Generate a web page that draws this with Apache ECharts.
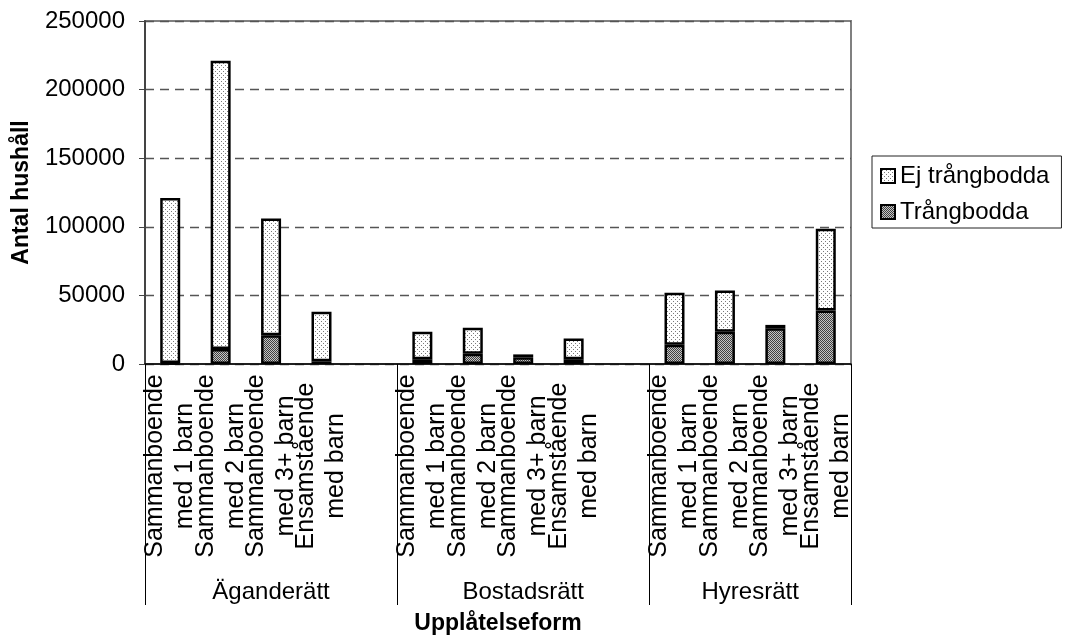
<!DOCTYPE html>
<html>
<head>
<meta charset="utf-8">
<script src="https://cdn.jsdelivr.net/npm/echarts@6/dist/echarts.min.js"></script>
<style>
  html, body { margin: 0; padding: 0; background: #fff; }
  #main { width: 1067px; height: 641px; }
</style>
</head>
<body>
<div id="main"></div>
<script>
// hushållstyper inom varje upplåtelseform
const hushallTyper = ['Sammanboende\nmed 1 barn', 'Sammanboende\nmed 2 barn', 'Sammanboende\nmed 3+ barn', 'Ensamstående\nmed barn'];
const upplatelseformer = ['Äganderätt', 'Bostadsrätt', 'Hyresrätt'];

// Trångbodda per upplåtelseform
const trangAgande = [800, 11000, 21000, 2000];
const trangBostad = [3500, 7500, 5000, 3500];
const trangHyres = [14000, 23500, 26000, 39000];

// Ej trångbodda per upplåtelseform
const ejAgande = [120200, 210000, 85000, 36000];
const ejBostad = [20000, 19000, 2000, 15000];
const ejHyres = [38000, 30000, 2500, 59500];

const yTicks = [0, 50000, 100000, 150000, 200000, 250000];

const FONT = "'Liberation Sans', Arial, sans-serif";

// bygg kategorier med en tom plats mellan grupperna
const categories = [];
const trangData = [];
const ejData = [];
const groupBounds = [0];
const groupCenters = [];
const trangGroups = [trangAgande, trangBostad, trangHyres];
const ejGroups = [ejAgande, ejBostad, ejHyres];
upplatelseformer.forEach((form, g) => {
  const start = categories.length;
  hushallTyper.forEach((typ, i) => {
    categories.push(typ);
    trangData.push(trangGroups[g][i]);
    ejData.push(ejGroups[g][i]);
  });
  if (g < upplatelseformer.length - 1) {
    categories.push('');
    trangData.push(null);
    ejData.push(null);
  }
  groupBounds.push(categories.length);
  groupCenters.push((start + categories.length) / 2);
});

function makePattern(size, bg, fg, dots) {
  const c = document.createElement('canvas');
  c.width = size;
  c.height = size;
  const ctx = c.getContext('2d');
  ctx.fillStyle = bg;
  ctx.fillRect(0, 0, size, size);
  ctx.fillStyle = fg;
  dots.forEach(d => ctx.fillRect(d[0], d[1], 1, 1));
  return { image: c, repeat: 'repeat' };
}

const lightPattern = makePattern(4, '#ffffff', '#7a7a7a', [[1, 1], [3, 3]]);
const darkPattern = makePattern(2, '#c4c4c4', '#404040', [[0, 0], [1, 1]]);

const chart = echarts.init(document.getElementById('main'), null, { renderer: 'canvas' });

chart.setOption({
  animation: false,
  textStyle: { fontFamily: FONT, color: '#000' },
  grid: {
    left: 145, right: 216, top: 21, bottom: 277,
    show: true, borderColor: '#808080', borderWidth: 2
  },
  legend: {
    orient: 'vertical',
    left: 872, top: 156,
    data: ['Ej trångbodda', 'Trångbodda'],
    borderColor: '#222',
    borderWidth: 1,
    padding: [8, 12, 4, 8],
    itemWidth: 14, itemHeight: 14, itemGap: 12,
    icon: 'rect',
    itemStyle: { borderColor: '#000', borderWidth: 2 },
    textStyle: { fontFamily: FONT, fontSize: 24, color: '#000' }
  },
  xAxis: [
    {
      type: 'category',
      data: categories,
      axisLine: { lineStyle: { color: '#000', width: 1.5 } },
      axisTick: { interval: 0, length: 194, lineStyle: { color: '#000', width: 1 } },
      axisLabel: {
        interval: 0, rotate: 90, align: 'center', verticalAlign: 'middle',
        margin: 102, lineHeight: 30, fontSize: 25, color: '#000', fontFamily: FONT,
        formatter: v => v ? v.split('\n').map(s => '{c|' + s + '}').join('\n') : '',
        rich: { c: { align: 'center', fontSize: 25, lineHeight: 30, fontFamily: FONT, color: '#000' } }
      }
    },
    {
      type: 'value',
      position: 'bottom',
      min: 0, max: categories.length,
      axisLine: { show: false },
      splitLine: { show: false },
      axisTick: { show: true, customValues: groupBounds, length: 241, lineStyle: { color: '#000', width: 1 } },
      axisLabel: {
        customValues: groupCenters,
        formatter: v => upplatelseformer[groupCenters.indexOf(v)] || '',
        margin: 216, fontSize: 24, color: '#000', fontFamily: FONT
      },
      name: 'Upplåtelseform',
      nameLocation: 'middle',
      nameGap: 248,
      nameTextStyle: { fontFamily: FONT, fontSize: 23, fontWeight: 'bold', color: '#000' }
    }
  ],
  yAxis: {
    type: 'value',
    min: yTicks[0], max: yTicks[yTicks.length - 1], interval: yTicks[1] - yTicks[0],
    name: 'Antal hushåll',
    nameLocation: 'middle',
    nameGap: 112,
    nameTextStyle: { fontFamily: FONT, fontSize: 23, fontWeight: 'bold', color: '#000' },
    axisLine: { show: true, lineStyle: { color: '#444', width: 2 } },
    axisTick: { show: true, length: 6, lineStyle: { color: '#444', width: 1 } },
    axisLabel: { margin: 20, fontSize: 24, color: '#000', fontFamily: FONT, formatter: v => String(v) },
    splitLine: { lineStyle: { color: '#555', width: 1.3, type: [9, 6] } }
  },
  series: [
    {
      name: 'Trångbodda',
      type: 'bar',
      stack: 'hushall',
      barWidth: 20,
      data: trangData,
      itemStyle: { color: darkPattern, borderColor: '#000', borderWidth: 2.5 }
    },
    {
      name: 'Ej trångbodda',
      type: 'bar',
      stack: 'hushall',
      barWidth: 20,
      data: ejData,
      itemStyle: { color: lightPattern, borderColor: '#000', borderWidth: 2.5 }
    }
  ]
});
</script>
</body>
</html>
